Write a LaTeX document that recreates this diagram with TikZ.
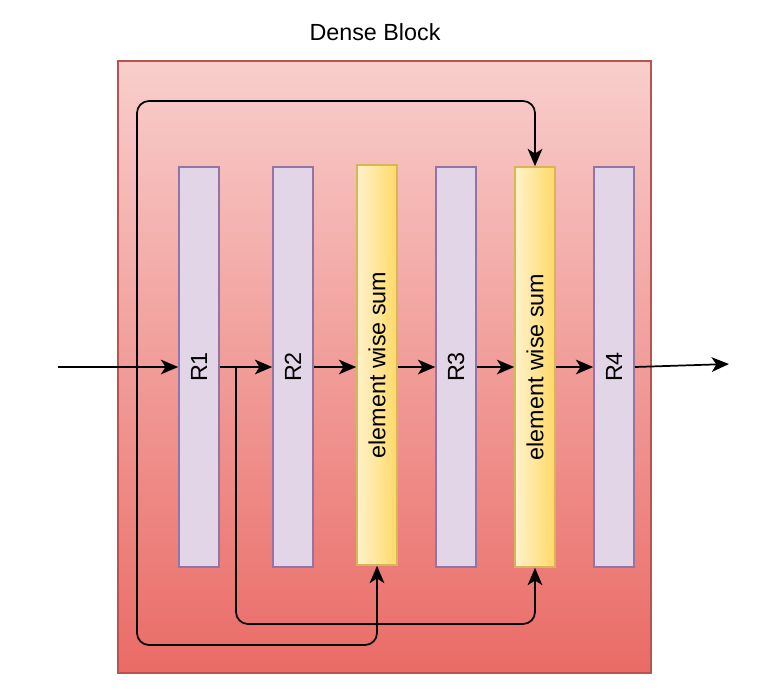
\documentclass[tikz,border=0pt]{standalone}
\usepackage{fontspec}
\setmainfont{Liberation Sans}
\usepackage{xcolor}
\usetikzlibrary{arrows.meta,positioning}
\definecolor{blockline}{HTML}{B85450}
\definecolor{blocktop}{HTML}{F8CECC}
\definecolor{blockbottom}{HTML}{EA6B66}
\definecolor{resline}{HTML}{9673A6}
\definecolor{resfill}{HTML}{E1D5E7}
\definecolor{sumline}{HTML}{D6B656}
\definecolor{sumlight}{HTML}{FFF2CC}
\definecolor{sumdark}{HTML}{FFD966}

\begin{document}
\begin{tikzpicture}[x=0.75pt,y=-0.75pt,
  resbox/.style={draw=resline,fill=resfill,line width=1.2pt,minimum width=30pt,minimum height=300pt,inner sep=0pt},
  sumbox/.style={draw=sumline,left color=sumlight,right color=sumdark,line width=1.2pt,minimum width=30pt,minimum height=300pt,inner sep=0pt},
  link/.style={-{Stealth[length=13pt,width=11pt,inset=3.5pt]},line width=1.3pt},
  skip/.style={link,rounded corners=9pt}]
\useasboundingbox (0,0) rectangle (779,700);
\fontsize{17.5}{20}\selectfont
\node[draw=blockline,top color=blocktop,bottom color=blockbottom,line width=1.2pt,minimum width=399.75pt,minimum height=459pt] (block) at (384.5,367) {};
\node (title) at (375,32) {Dense Block};
% layers and sums
\node[resbox] (r1) at (199,367) {\rotatebox{90}{R1}};
\node[resbox] (r2) at (293,367) {\rotatebox{90}{R2}};
\node[sumbox] (sum1) at (377,365) {\rotatebox{90}{element wise sum}};
\node[resbox] (r3) at (456,367) {\rotatebox{90}{R3}};
\node[sumbox] (sum2) at (535,367) {\rotatebox{90}{element wise sum}};
\node[resbox] (r4) at (614,367) {\rotatebox{90}{R4}};
\coordinate (in) at (58,367);
\coordinate (out) at (729,364);
\coordinate (split1) at (137,367);
\coordinate (split2) at (236,367);
% main path
\draw[link] (in) -- (r1);
\draw[link] (r1) -- (r2);
\draw[link] (r2) -- (sum1.west |- r2);
\draw[link] (sum1.east |- r3) -- (r3);
\draw[link] (r3) -- (sum2);
\draw[link] (sum2) -- (r4);
\draw[link] (r4.east) -- (out);
% skip connections
\draw[skip] (split1) -- (137,101) -| (sum2.north);
\draw[skip] (split1) -- (137,645) -| (sum1.south);
\draw[skip] (split2) -- (236,624) -| (sum2.south);
\end{tikzpicture}
\end{document}
